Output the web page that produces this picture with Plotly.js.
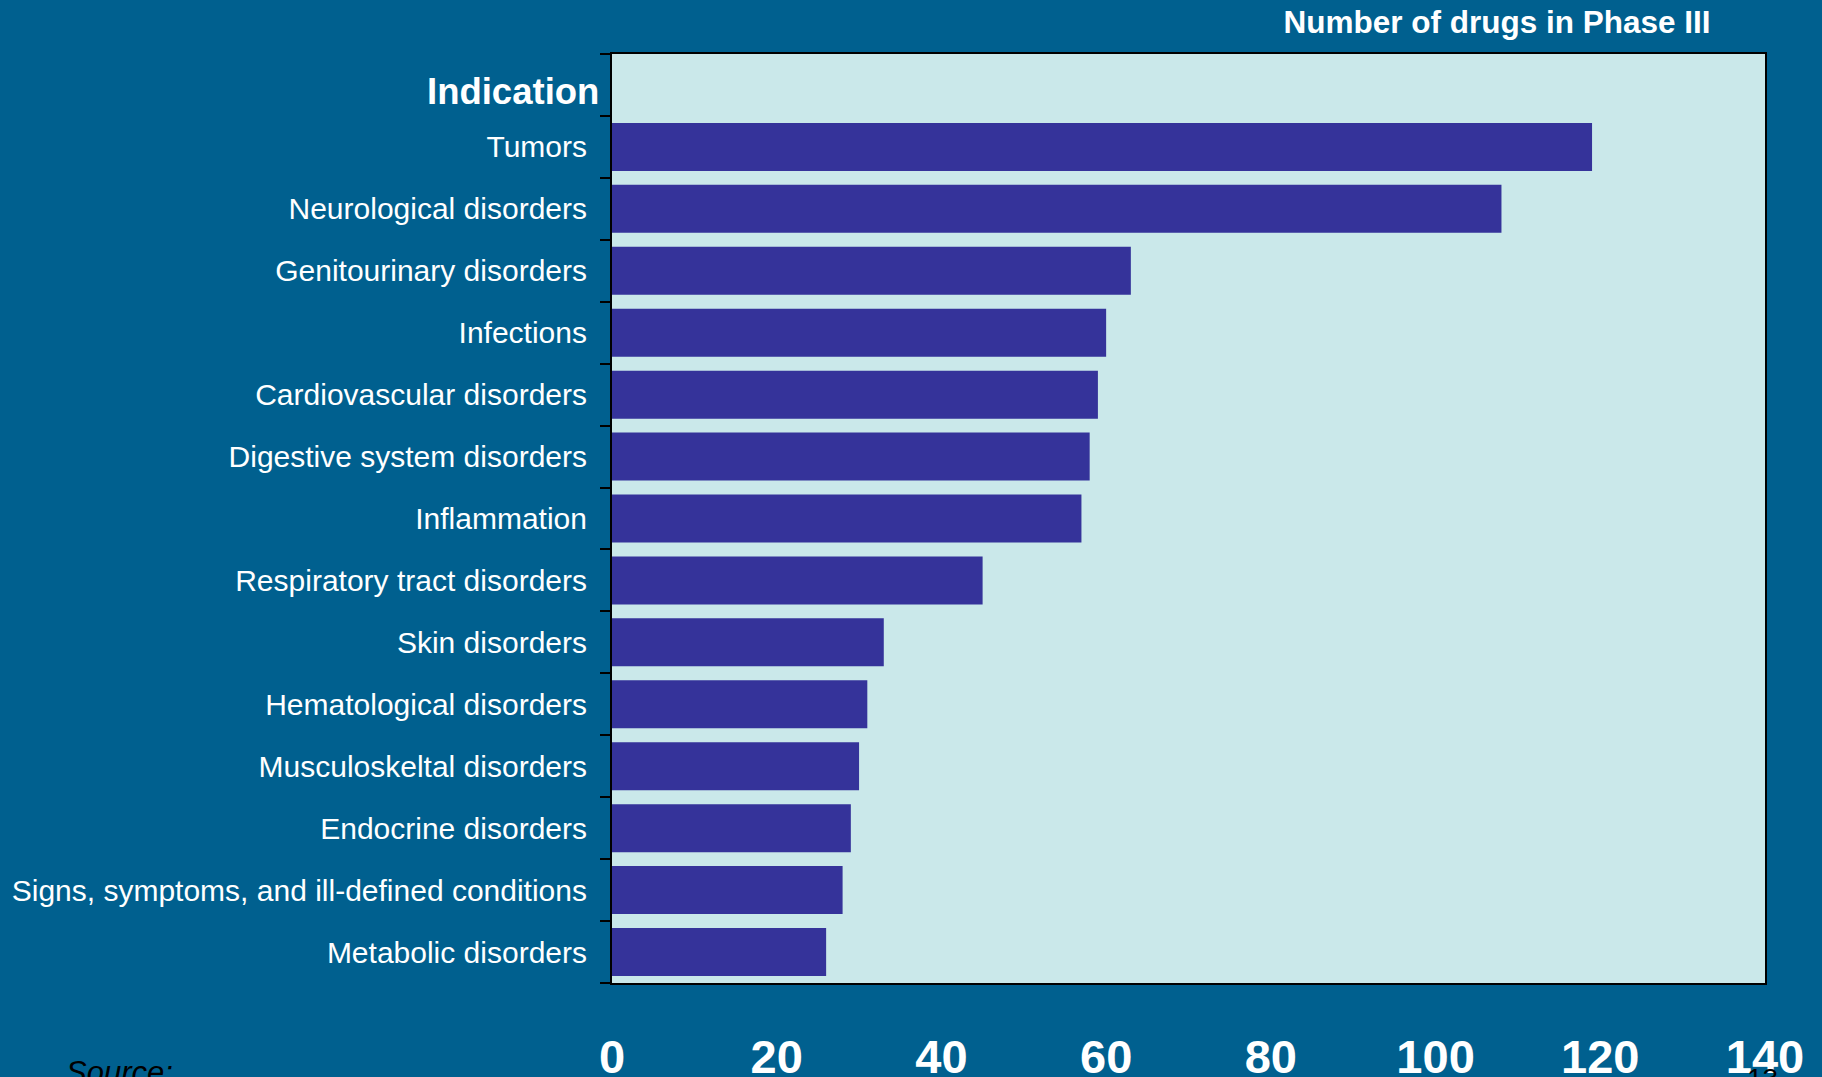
<!DOCTYPE html>
<html>
<head>
<meta charset="utf-8">
<script src="https://cdn.plot.ly/plotly-3.0.1.min.js"></script>
<style>
  html, body { margin: 0; padding: 0; background: #00608F; }
  #chart { width: 1822px; height: 1077px; }
</style>
</head>
<body>
<div id="chart"></div>
<script>
// ---- data ----
const headerLabel = "Indication";
const indications = [
  "Tumors",
  "Neurological disorders",
  "Genitourinary disorders",
  "Infections",
  "Cardiovascular disorders",
  "Digestive system disorders",
  "Inflammation",
  "Respiratory tract disorders",
  "Skin disorders",
  "Hematological disorders",
  "Musculoskeltal disorders",
  "Endocrine disorders",
  "Signs, symptoms, and ill-defined conditions",
  "Metabolic disorders"
];
const drugsInPhaseIII = [119, 108, 63, 60, 59, 58, 57, 45, 33, 31, 30, 29, 28, 26];
const xTickValues = [0, 20, 40, 60, 80, 100, 120, 140];
const chartTitle = "Number of drugs in Phase III";
const sourceText = "Source:";
const pageNumber = "13";

// ---- chart ----
const categories = [headerLabel].concat(indications);
const tickLabels = [""].concat(indications);
const barValues = [null].concat(drugsInPhaseIII);

const trace = {
  type: "bar",
  orientation: "h",
  x: barValues,
  y: categories,
  marker: { color: "#35339A", line: { width: 0 } },
  hoverinfo: "x+y"
};

const font = "Liberation Sans, Arial, Helvetica, sans-serif";

const layout = {
  width: 1822,
  height: 1077,
  paper_bgcolor: "#00608F",
  plot_bgcolor: "#CAE8EA",
  margin: { l: 612, r: 57, t: 54, b: 94, pad: 0 },
  showlegend: false,
  bargap: 0.225,
  title: {
    text: "<b>" + chartTitle + "</b>",
    font: { family: font, size: 31.5, color: "#FFFFFF" },
    xref: "container", yref: "container",
    x: 1497 / 1822, xanchor: "center",
    y: 1 - 22 / 1077, yanchor: "middle"
  },
  xaxis: {
    range: [0, 140],
    tickmode: "array",
    tickvals: xTickValues,
    ticktext: xTickValues.map(String),
    ticks: "",
    ticklabelstandoff: 32,
    tickfont: { family: font, size: 47, color: "#FFFFFF", weight: "bold" },
    showgrid: false,
    zeroline: false,
    showline: true,
    linecolor: "#000000",
    linewidth: 2,
    mirror: true,
    fixedrange: true
  },
  yaxis: {
    type: "category",
    categoryorder: "array",
    categoryarray: categories,
    range: [categories.length - 0.5, -0.5],
    autorange: false,
    tickmode: "array",
    tickvals: categories,
    ticktext: tickLabels,
    tickson: "boundaries",
    ticks: "outside",
    ticklen: 10,
    tickwidth: 2,
    tickcolor: "#000000",
    ticklabelstandoff: 17,
    tickfont: { family: font, size: 30, color: "#FFFFFF" },
    showgrid: false,
    zeroline: false,
    showline: true,
    linecolor: "#000000",
    linewidth: 2,
    mirror: true,
    fixedrange: true
  },
  annotations: [
    {
      text: "<b>" + headerLabel + "</b>",
      xref: "paper", yref: "paper",
      x: (601 - 612) / 1153, xanchor: "right",
      y: (983 - 91) / 929, yanchor: "middle",
      showarrow: false,
      font: { family: font, size: 36.5, color: "#FFFFFF" }
    },
    {
      text: "<i>" + sourceText + "</i>",
      xref: "paper", yref: "paper",
      x: (64 - 612) / 1153, xanchor: "left",
      y: (983 - 1053) / 929, yanchor: "top",
      showarrow: false,
      font: { family: font, size: 31, color: "#000000" }
    },
    {
      text: pageNumber,
      xref: "paper", yref: "paper",
      x: (1745 - 612) / 1153, xanchor: "left",
      y: (983 - 1061) / 929, yanchor: "top",
      showarrow: false,
      font: { family: font, size: 28, color: "#000000" }
    }
  ]
};

Plotly.newPlot("chart", [trace], layout, { displayModeBar: false, staticPlot: true });
</script>
</body>
</html>
